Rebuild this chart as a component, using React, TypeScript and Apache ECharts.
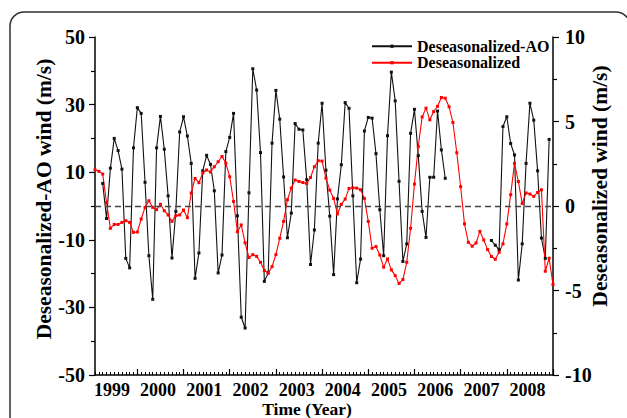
import React, { useEffect, useRef } from 'react';
import * as echarts from 'echarts';

const FONT = '"Liberation Serif", "Times New Roman", serif';

// month index: 1 = Feb 1999 ... 120 = Jan 2009 (index 0 = Jan 1999)
const months: number[] = Array.from({ length: 120 }, (_, i) => i + 1);

// Deseasonalized-AO wind (m/s), left axis, aligned with months
const aoWind: (number | null)[] = [
  null, null, 6.7, -3.7, 11.2, 20.0, 16.4, 10.9, -15.5, -18.3, 17.2, 29.1,
  27.4, 7.0, -14.7, -27.6, 17.2, 26.5, 16.8, 3.0, -15.4, -1.6, 21.9, 26.4,
  20.7, 12.6, -21.4, -13.9, 10.4, 15.0, 12.3, 4.5, -19.8, -14.5, 16.1, 20.3,
  27.4, -2.9, -32.9, -36.1, 3.9, 40.6, 34.3, 15.8, -22.3, -19.8, 18.6, 34.2,
  25.7, 8.6, -9.4, -2.1, 24.4, 22.7, 22.5, 7.8, -17.3, -7.1, 18.6, 30.4,
  10.6, -3.0, -20.3, 2.1, 12.2, 30.6, 28.9, 3.0, -22.7, -15.7, 22.2, 26.2,
  26.0, 15.5, -1.1, -14.7, 20.8, 39.6, 31.1, 7.3, -16.4, -11.2, 21.5, 28.6,
  14.9, -1.6, -9.3, 8.5, 8.5, 28.1, 16.6, 8.2, null, null, null, null,
  null, null, null, null, null, null, null, -10.2, -11.6, -12.9, 23.5, 26.4,
  18.5, 15.1, -21.9, -11.2, 12.6, 30.4, 25.4, 10.4, -9.5, -15.5, 19.7, null,
];

// Deseasonalized wind (m/s), right axis, aligned with months
const desWind: number[] = [
  2.14, 2.05, 1.89, 0.2, -1.32, -1.09, -1.09, -0.97, -0.87, -0.97, -1.56, -1.54,
  -0.77, -0.08, 0.31, -0.08, -0.22, 0.10, -0.28, -0.53, -0.91, -0.57, -0.53, -0.24,
  -0.69, 0.77, 1.63, 1.38, 1.95, 2.13, 2.01, 2.32, 2.62, 2.93, 2.54, 1.73,
  0.27, -1.52, -1.12, -2.18, -3.05, -2.88, -2.98, -3.33, -3.82, -3.96, -3.59, -2.88,
  -1.91, -0.91, 0.37, 1.06, 1.54, 1.45, 1.39, 1.33, 1.69, 2.32, 2.68, 2.66,
  1.65, 0.94, 0.45, -0.47, 0.10, 0.41, 1.04, 1.08, 1.06, 0.96, 0.45, -0.91,
  -2.50, -2.40, -2.90, -3.62, -3.13, -3.78, -4.12, -4.58, -4.35, -3.33, -1.32, 1.30,
  3.52, 5.27, 5.79, 5.10, 5.59, 5.90, 6.42, 6.38, 5.87, 4.94, 3.15, 1.14,
  -1.06, -2.15, -2.38, -2.19, -1.50, -2.01, -2.58, -2.99, -3.15, -2.74, -2.24, -1.06,
  0.67, 2.52, 1.45, 0.15, 0.77, 0.71, 0.57, 0.80, 0.96, -3.86, -3.09, -4.65,
];

const years: number[] = [1999, 2000, 2001, 2002, 2003, 2004, 2005, 2006, 2007, 2008];
const yearTickMonths: number[] = [12, 24, 36, 48, 60, 72, 84, 96, 108, 120];
const yearLabelMonths: number[] = years.map((_, i) => 5.4 + 12 * i);

const leftTitle = 'Deseasonalized-AO wind (m/s)';
const rightTitle = 'Deseasonalized wind (m/s)';
const bottomTitle = 'Time (Year)';

export default function App() {
  const ref = useRef<HTMLDivElement>(null);
  useEffect(() => {
    const chart = echarts.init(ref.current!, null, { renderer: 'svg' });
    const labelStyle = { fontFamily: FONT, fontWeight: 'bold', fontSize: 20, color: '#000' };
    const titleFont = (size: number) => `bold ${size}px ${FONT}`;
    chart.setOption({
      animation: false,
      backgroundColor: '#fff',
      graphic: [
        {
          type: 'rect',
          shape: { x: 10, y: 12, width: 620, height: 430, r: 14 },
          style: { fill: 'none', stroke: '#333', lineWidth: 1.5 },
          silent: true,
        },
        {
          type: 'text',
          x: 44,
          y: 199,
          rotation: Math.PI / 2,
          style: { text: leftTitle, font: titleFont(21.5), fill: '#000', align: 'center', verticalAlign: 'middle' },
          silent: true,
        },
        {
          type: 'text',
          x: 600,
          y: 186,
          rotation: Math.PI / 2,
          style: { text: rightTitle, font: titleFont(21.5), fill: '#000', align: 'center', verticalAlign: 'middle' },
          silent: true,
        },
        {
          type: 'text',
          x: 307,
          y: 409,
          style: { text: bottomTitle, font: titleFont(17.5), fill: '#000', align: 'center', verticalAlign: 'middle' },
          silent: true,
        },
      ],
      grid: { left: 95, top: 37, width: 458, height: 338, outerBoundsMode: 'none', containLabel: false },
      legend: {
        orient: 'vertical',
        left: 371,
        top: 38,
        padding: 0,
        itemWidth: 40,
        itemHeight: 4,
        itemGap: 0,
        textStyle: { fontFamily: FONT, fontWeight: 'bold', fontSize: 16, lineHeight: 16.5, color: '#000' },
        data: ['Deseasonalized-AO', 'Deseasonalized'],
      },
      xAxis: [
        {
          type: 'value',
          position: 'bottom',
          min: 1,
          max: 120,
          axisLine: { show: true, onZero: false, lineStyle: { color: '#000', width: 1.5 } },
          axisTick: { show: true, inside: true, length: 6, customValues: yearTickMonths, lineStyle: { color: '#000', width: 1.2 } },
          axisLabel: {
            show: true,
            customValues: yearLabelMonths,
            formatter: (v: number) => String(years[Math.round((v - 5.4) / 12)]),
            margin: 6,
            ...labelStyle,
            fontSize: 18,
          },
          splitLine: { show: false },
        },
        {
          type: 'value',
          position: 'bottom',
          min: 1,
          max: 120,
          axisLine: { show: false, onZero: false },
          axisTick: { show: true, inside: true, length: 3, customValues: months, lineStyle: { color: '#000', width: 1 } },
          axisLabel: { show: false },
          splitLine: { show: false },
        },
      ],
      yAxis: [
        {
          type: 'value',
          position: 'left',
          min: -50,
          max: 50,
          interval: 20,
          axisLine: { show: true, onZero: false, lineStyle: { color: '#000', width: 1.5 } },
          axisTick: { show: true, inside: false, length: 6, lineStyle: { color: '#000', width: 1.2 } },
          minorTick: { show: true, splitNumber: 2, length: 4, lineStyle: { color: '#000', width: 1.2 } },
          splitLine: { show: false },
          axisLabel: { margin: 10, ...labelStyle },
        },
        {
          type: 'value',
          position: 'right',
          min: -10,
          max: 10,
          interval: 5,
          axisLine: { show: true, onZero: false, lineStyle: { color: '#000', width: 1.5 } },
          axisTick: { show: true, inside: false, length: 6, lineStyle: { color: '#000', width: 1.2 } },
          minorTick: { show: true, splitNumber: 2, length: 4, lineStyle: { color: '#000', width: 1.2 } },
          splitLine: { show: false },
          axisLabel: { margin: 12, ...labelStyle },
        },
      ],
      series: [
        {
          name: 'Deseasonalized-AO',
          type: 'line',
          xAxisIndex: 0,
          yAxisIndex: 0,
          data: months.map((m, i) => [m, aoWind[i] === null ? '-' : aoWind[i]]),
          connectNulls: false,
          symbol: 'rect',
          symbolSize: 3,
          showSymbol: true,
          lineStyle: { color: '#111', width: 1.1 },
          itemStyle: { color: '#111' },
          markLine: {
            silent: true,
            symbol: ['none', 'none'],
            label: { show: false },
            lineStyle: { type: [6, 4], color: '#444', width: 1.3 },
            data: [{ yAxis: 0 }],
          },
        },
        {
          name: 'Deseasonalized',
          type: 'line',
          xAxisIndex: 0,
          yAxisIndex: 1,
          data: months.map((m, i) => [m, desWind[i]]),
          symbol: 'rect',
          symbolSize: 3,
          showSymbol: true,
          lineStyle: { color: '#ff0000', width: 1.1 },
          itemStyle: { color: '#ff0000' },
        },
      ],
    });
    return () => chart.dispose();
  }, []);
  return (
    <div
      ref={ref}
      style={{ position: 'fixed', left: 0, top: 0, width: 627, height: 418, background: '#fff' }}
    />
  );
}
